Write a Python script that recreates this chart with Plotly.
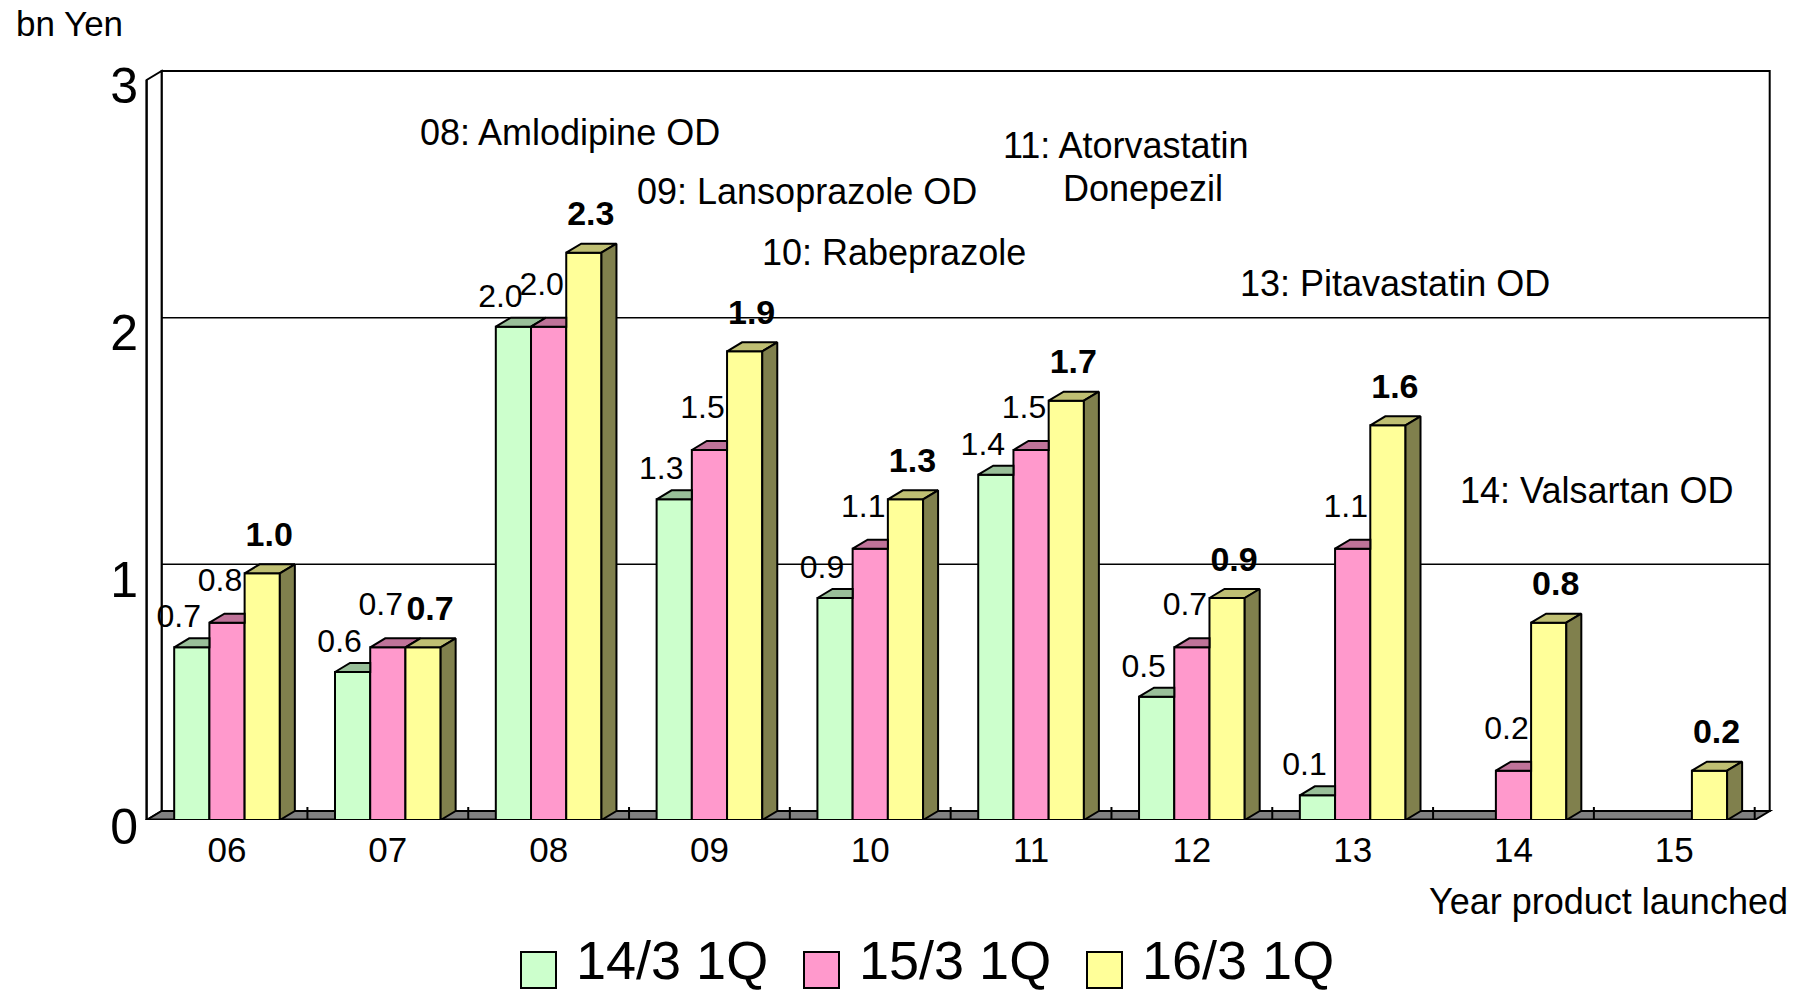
import plotly.graph_objects as go

# Sales by year of product launch (bn Yen), one series per fiscal 1Q
years = ["06", "07", "08", "09", "10", "11", "12", "13", "14", "15"]
series_names = ["14/3 1Q", "15/3 1Q", "16/3 1Q"]
sales_14_1q = [0.7, 0.6, 2.0, 1.3, 0.9, 1.4, 0.5, 0.1, None, None]
sales_15_1q = [0.8, 0.7, 2.0, 1.5, 1.1, 1.5, 0.7, 1.1, 0.2, None]
sales_16_1q = [1.0, 0.7, 2.3, 1.9, 1.3, 1.7, 0.9, 1.6, 0.8, 0.2]
y_ticks = [0, 1, 2, 3]

launch_notes = ["08: Amlodipine OD", "09: Lansoprazole OD", "10: Rabeprazole",
                "11: Atorvastatin", "Donepezil", "13: Pitavastatin OD", "14: Valsartan OD"]

series = [sales_14_1q, sales_15_1q, sales_16_1q]
front_colors = ["#CCFFCC", "#FF99CC", "#FFFF99"]
top_colors = ["#99BF99", "#BF7399", "#BFBF73"]
side_colors = ["#66805F", "#804D66", "#80804D"]

FONT = "Liberation Sans, Arial, sans-serif"

# pixel scale of the plot area (used for the pseudo-3D depth)
PX_X = 160.8
PX_Y = 246.67
DX = 15 / PX_X
DY = 9 / PX_Y
W = 0.219
X_MIN, X_MAX = -0.51, 9.62
Y_MAX = 780 / PX_Y
M_L, M_R, M_T, M_B = 145, 31, 40, 175

fig = go.Figure()

# front faces
for i, (name, vals) in enumerate(zip(series_names, series)):
    fig.add_trace(go.Bar(
        x=list(range(len(years))), y=vals, name=name,
        width=W, offset=(i - 1.5) * W,
        marker=dict(color=front_colors[i], line=dict(color="black", width=2)),
        hoverinfo="skip", showlegend=False,
    ))

# top and side faces, painted left to right within each group
for i, vals in enumerate(series):
    nxt_vals = series[i + 1] if i + 1 < len(series) else [None] * len(vals)
    tx, ty, sx, sy = [], [], [], []
    for j, h in enumerate(vals):
        if h is None:
            continue
        xl = j + (i - 1.5) * W
        xr = xl + W
        nxt = nxt_vals[j]
        if nxt is not None and nxt >= h + DY:
            tx += [xl, xl + DX, xr, xr, xl, None]
            ty += [h, h + DY, h + DY, h, h, None]
        else:
            tx += [xl, xl + DX, xr + DX, xr, xl, None]
            ty += [h, h + DY, h + DY, h, h, None]
        if nxt is None:
            sx += [xr, xr + DX, xr + DX, xr, xr, None]
            sy += [0, DY, h + DY, h, 0, None]
    fig.add_trace(go.Scatter(x=tx, y=ty, mode="lines", fill="toself",
                             fillcolor=top_colors[i], line=dict(color="black", width=2),
                             hoverinfo="skip", showlegend=False))
    if sx:
        fig.add_trace(go.Scatter(x=sx, y=sy, mode="lines", fill="toself",
                                 fillcolor=side_colors[i], line=dict(color="black", width=2),
                                 hoverinfo="skip", showlegend=False))

# value labels
label_shift = [(-13, 28), (-7, 40), (7, 36)]
for i, vals in enumerate(series):
    lx, ly, lt = [], [], []
    for j, h in enumerate(vals):
        if h is None:
            continue
        lx.append(j + (i - 1) * W + label_shift[i][0] / PX_X)
        ly.append(h + label_shift[i][1] / PX_Y)
        lt.append(f"{h:.1f}")
    bold = i == len(series) - 1
    fig.add_trace(go.Scatter(
        x=lx, y=ly, text=lt, mode="text", textposition="middle center",
        textfont=dict(family=FONT, size=34 if bold else 32, color="black",
                      weight="bold" if bold else "normal"),
        cliponaxis=False, hoverinfo="skip", showlegend=False,
    ))

shapes = []
x0, x1 = -0.5, len(years) - 0.5
# back wall and its grid
shapes.append(dict(type="rect", x0=x0 + DX, x1=x1 + DX, y0=DY, y1=y_ticks[-1] + DY,
                   line=dict(color="black", width=2), fillcolor="white", layer="below"))
for k in y_ticks[1:-1]:
    shapes.append(dict(type="line", x0=x0 + DX, x1=x1 + DX, y0=k + DY, y1=k + DY,
                       line=dict(color="black", width=1.5), layer="below"))
    shapes.append(dict(type="line", x0=x0, x1=x0 + DX, y0=k, y1=k + DY,
                       line=dict(color="black", width=1.5), layer="below"))
# left wall
shapes.append(dict(type="path",
                   path=f"M {x0},0 L {x0},{y_ticks[-1]} L {x0 + DX},{y_ticks[-1] + DY} L {x0 + DX},{DY} Z",
                   line=dict(color="black", width=2), fillcolor="white", layer="below"))
# floor
shapes.append(dict(type="path",
                   path=f"M {x0},0 L {x0 + DX},{DY} L {x1 + DX},{DY} L {x1},0 Z",
                   line=dict(color="black", width=2), fillcolor="#808080", layer="below"))
# category separators on the floor
for k in range(1, len(years) + 1):
    xb = k - 0.5
    shapes.append(dict(type="line", x0=xb, x1=xb, y0=0, y1=DY + 4 / PX_Y,
                       line=dict(color="black", width=2), layer="below"))
# front baseline and front axis
shapes.append(dict(type="line", x0=x0, x1=x1, y0=0, y1=0,
                   line=dict(color="black", width=3), layer="below"))
shapes.append(dict(type="line", x0=x0, x1=x0, y0=0, y1=y_ticks[-1],
                   line=dict(color="black", width=2), layer="above"))

annotations = []
note_pos = [(1.188, 2.789), (2.537, 2.546), (3.315, 2.299), (4.813, 2.736),
            (5.187, 2.562), (6.287, 2.177), (7.655, 1.334)]
for txt, (ax, ay) in zip(launch_notes, note_pos):
    annotations.append(dict(x=ax, y=ay, xref="x", yref="y", text=txt, showarrow=False,
                            xanchor="left", yanchor="middle",
                            font=dict(family=FONT, size=36, color="black")))

plot_w = 1805 - M_L - M_R
plot_h = 995 - M_T - M_B


def px_to_paper(px, py):
    return (px - M_L) / plot_w, (995 - M_B - py) / plot_h


bx, by = px_to_paper(14, 23)
annotations.append(dict(x=bx, y=by, xref="paper", yref="paper", text="bn Yen",
                        showarrow=False, xanchor="left", yanchor="middle",
                        font=dict(family=FONT, size=35, color="black")))
tx_, ty_ = px_to_paper(1790, 901)
annotations.append(dict(x=tx_, y=ty_, xref="paper", yref="paper", text="Year product launched",
                        showarrow=False, xanchor="right", yanchor="middle",
                        font=dict(family=FONT, size=36, color="black")))

# legend
for i, name in enumerate(series_names):
    left = 521 + i * 283
    sx0, sy0 = px_to_paper(left, 988)
    sx1, sy1 = px_to_paper(left + 35, 952)
    shapes.append(dict(type="rect", xref="paper", yref="paper", x0=sx0, x1=sx1, y0=sy0, y1=sy1,
                       fillcolor=front_colors[i], line=dict(color="black", width=2)))
    lx_, ly_ = px_to_paper(left + 53, 960)
    annotations.append(dict(x=lx_, y=ly_, xref="paper", yref="paper", text=name,
                            showarrow=False, xanchor="left", yanchor="middle",
                            font=dict(family=FONT, size=54, color="black")))

fig.update_layout(
    width=1805, height=995,
    margin=dict(l=M_L, r=M_R, t=M_T, b=M_B),
    plot_bgcolor="white", paper_bgcolor="white",
    barmode="overlay", showlegend=False,
    font=dict(family=FONT, color="black"),
    shapes=shapes, annotations=annotations,
    xaxis=dict(range=[X_MIN, X_MAX], tickvals=list(range(len(years))), ticktext=years,
               showgrid=False, zeroline=False, showline=False, ticks="",
               tickfont=dict(family=FONT, size=35, color="black"), ticklabelstandoff=6),
    yaxis=dict(range=[0, Y_MAX], tickvals=y_ticks, ticktext=[str(v) for v in y_ticks],
               showgrid=False, zeroline=False, showline=False, ticks="",
               ticklabelstandoff=6, ticklabelshift=6,
               tickfont=dict(family=FONT, size=50, color="black")),
)

fig.write_html("out.html")
